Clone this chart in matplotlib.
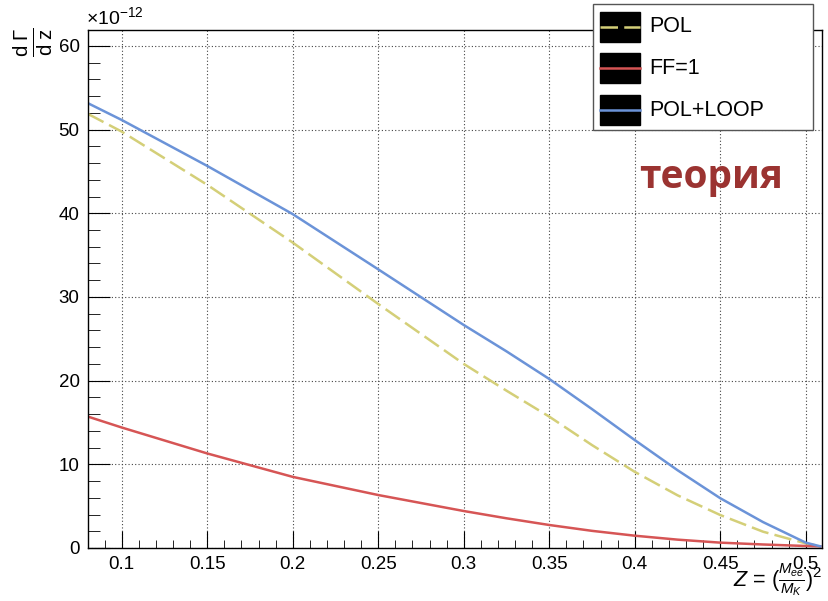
import matplotlib
matplotlib.use("Agg")
import matplotlib.pyplot as plt
from matplotlib.patches import Rectangle
from matplotlib.lines import Line2D
from matplotlib.ticker import MultipleLocator

plt.rcParams['font.family'] = ['Liberation Sans', 'DejaVu Sans']
plt.rcParams['mathtext.fontset'] = 'custom'
plt.rcParams['mathtext.rm'] = 'Liberation Sans'
plt.rcParams['mathtext.it'] = 'Liberation Sans:italic'

z = [0.0803, 0.1, 0.15, 0.2, 0.25, 0.3, 0.325, 0.35, 0.375, 0.4, 0.425, 0.45, 0.475, 0.5, 0.5085]
pol = [51.87, 49.76, 43.4, 36.5, 29.16, 22.0, 18.8, 15.7, 12.3, 9.1, 6.3, 3.94, 1.95, 0.55, 0.2]
ff1 = [15.7, 14.4, 11.3, 8.5, 6.33, 4.42, 3.55, 2.75, 2.05, 1.47, 1.0, 0.64, 0.42, 0.24, 0.2]
pol_loop = [53.15, 51.15, 45.66, 39.9, 33.3, 26.65, 23.5, 20.2, 16.6, 12.9, 9.3, 5.95, 3.1, 0.64, 0.2]
legend_labels = ["POL", "FF=1", "POL+LOOP"]

c_pol = "#d4cf78"
c_ff = "#d65555"
c_loop = "#6b93d8"

W, H = 829, 601
fig = plt.figure(figsize=(W / 100, H / 100), dpi=100)
ax = fig.add_axes([88 / W, (H - 548) / H, (822 - 88) / W, (548 - 30) / H])

ax.plot(z, pol, color=c_pol, lw=1.8, linestyle=(0, (7, 2.5)))
ax.plot(z, ff1, color=c_ff, lw=1.8)
ax.plot(z, pol_loop, color=c_loop, lw=1.8)

ax.set_xlim(0.0803, 0.5095)
ax.set_ylim(0, 61.9)
ax.xaxis.set_minor_locator(MultipleLocator(0.01))
ax.yaxis.set_major_locator(MultipleLocator(10))
ax.yaxis.set_minor_locator(MultipleLocator(2))
ax.set_xticks([0.1, 0.15, 0.2, 0.25, 0.3, 0.35, 0.4, 0.45, 0.5])
ax.set_xticklabels(["0.1", "0.15", "0.2", "0.25", "0.3", "0.35", "0.4", "0.45", "0.5"])
ax.tick_params(axis='both', which='both', direction='in', top=False, right=False, labelsize=13.5, color='black')
ax.tick_params(axis='x', which='major', length=12, pad=6)
ax.tick_params(axis='x', which='minor', length=6)
ax.tick_params(axis='y', which='major', length=16, pad=6)
ax.tick_params(axis='y', which='minor', length=8.5)
ax.grid(True, which='major', color='#444444', linestyle=(0, (1, 2)), lw=0.8)
for s in ax.spines.values():
    s.set_linewidth(1.0)
    s.set_color('black')

# exponent
fig.text(86 / W, 1 - 17 / H, r"$\times$10$^{-12}$", fontsize=14, ha='left', va='center')

# y label
fig.text(33 / W, 1 - 42 / H, r"$\frac{\mathrm{d}\;\Gamma}{\mathrm{d}\;\mathrm{z}}$", fontsize=21,
         rotation=90, ha='center', va='center')

# x label
fig.text(823 / W, 1 - 580 / H, r"$Z$ = $(\frac{M_{ee}}{M_{K}})^{2}$", fontsize=15.5,
         ha='right', va='center')

# theory text
fig.text(711 / W, 1 - 188 / H, "теория", fontsize=28, fontweight='bold', color='#9b3331',
         family=['Open Sans', 'DejaVu Sans'], ha='center', va='baseline')

# legend (drawn manually, ROOT style)
fig.patches.append(Rectangle((593 / W, 1 - 130 / H), (813 - 593) / W, (130 - 4) / H,
                             transform=fig.transFigure, facecolor='white', edgecolor='#555555',
                             lw=1.0, zorder=5))
entries = [(27, c_pol, (0, (7, 2.5))), (68, c_ff, '-'), (110, c_loop, '-')]
for (yc, col, ls), lab in zip(entries, legend_labels):
    fig.patches.append(Rectangle((600 / W, 1 - (yc + 15) / H), 40 / W, 30 / H,
                                 transform=fig.transFigure, facecolor='black', edgecolor='black',
                                 zorder=6))
    fig.lines.append(Line2D([600 / W, 640 / W], [1 - yc / H, 1 - yc / H], transform=fig.transFigure,
                            color=col, lw=1.8, linestyle=ls, zorder=7))
    fig.text(649 / W, 1 - yc / H, lab, fontsize=15.5, ha='left', va='center', zorder=8)

fig.savefig("out.png", dpi=100)
